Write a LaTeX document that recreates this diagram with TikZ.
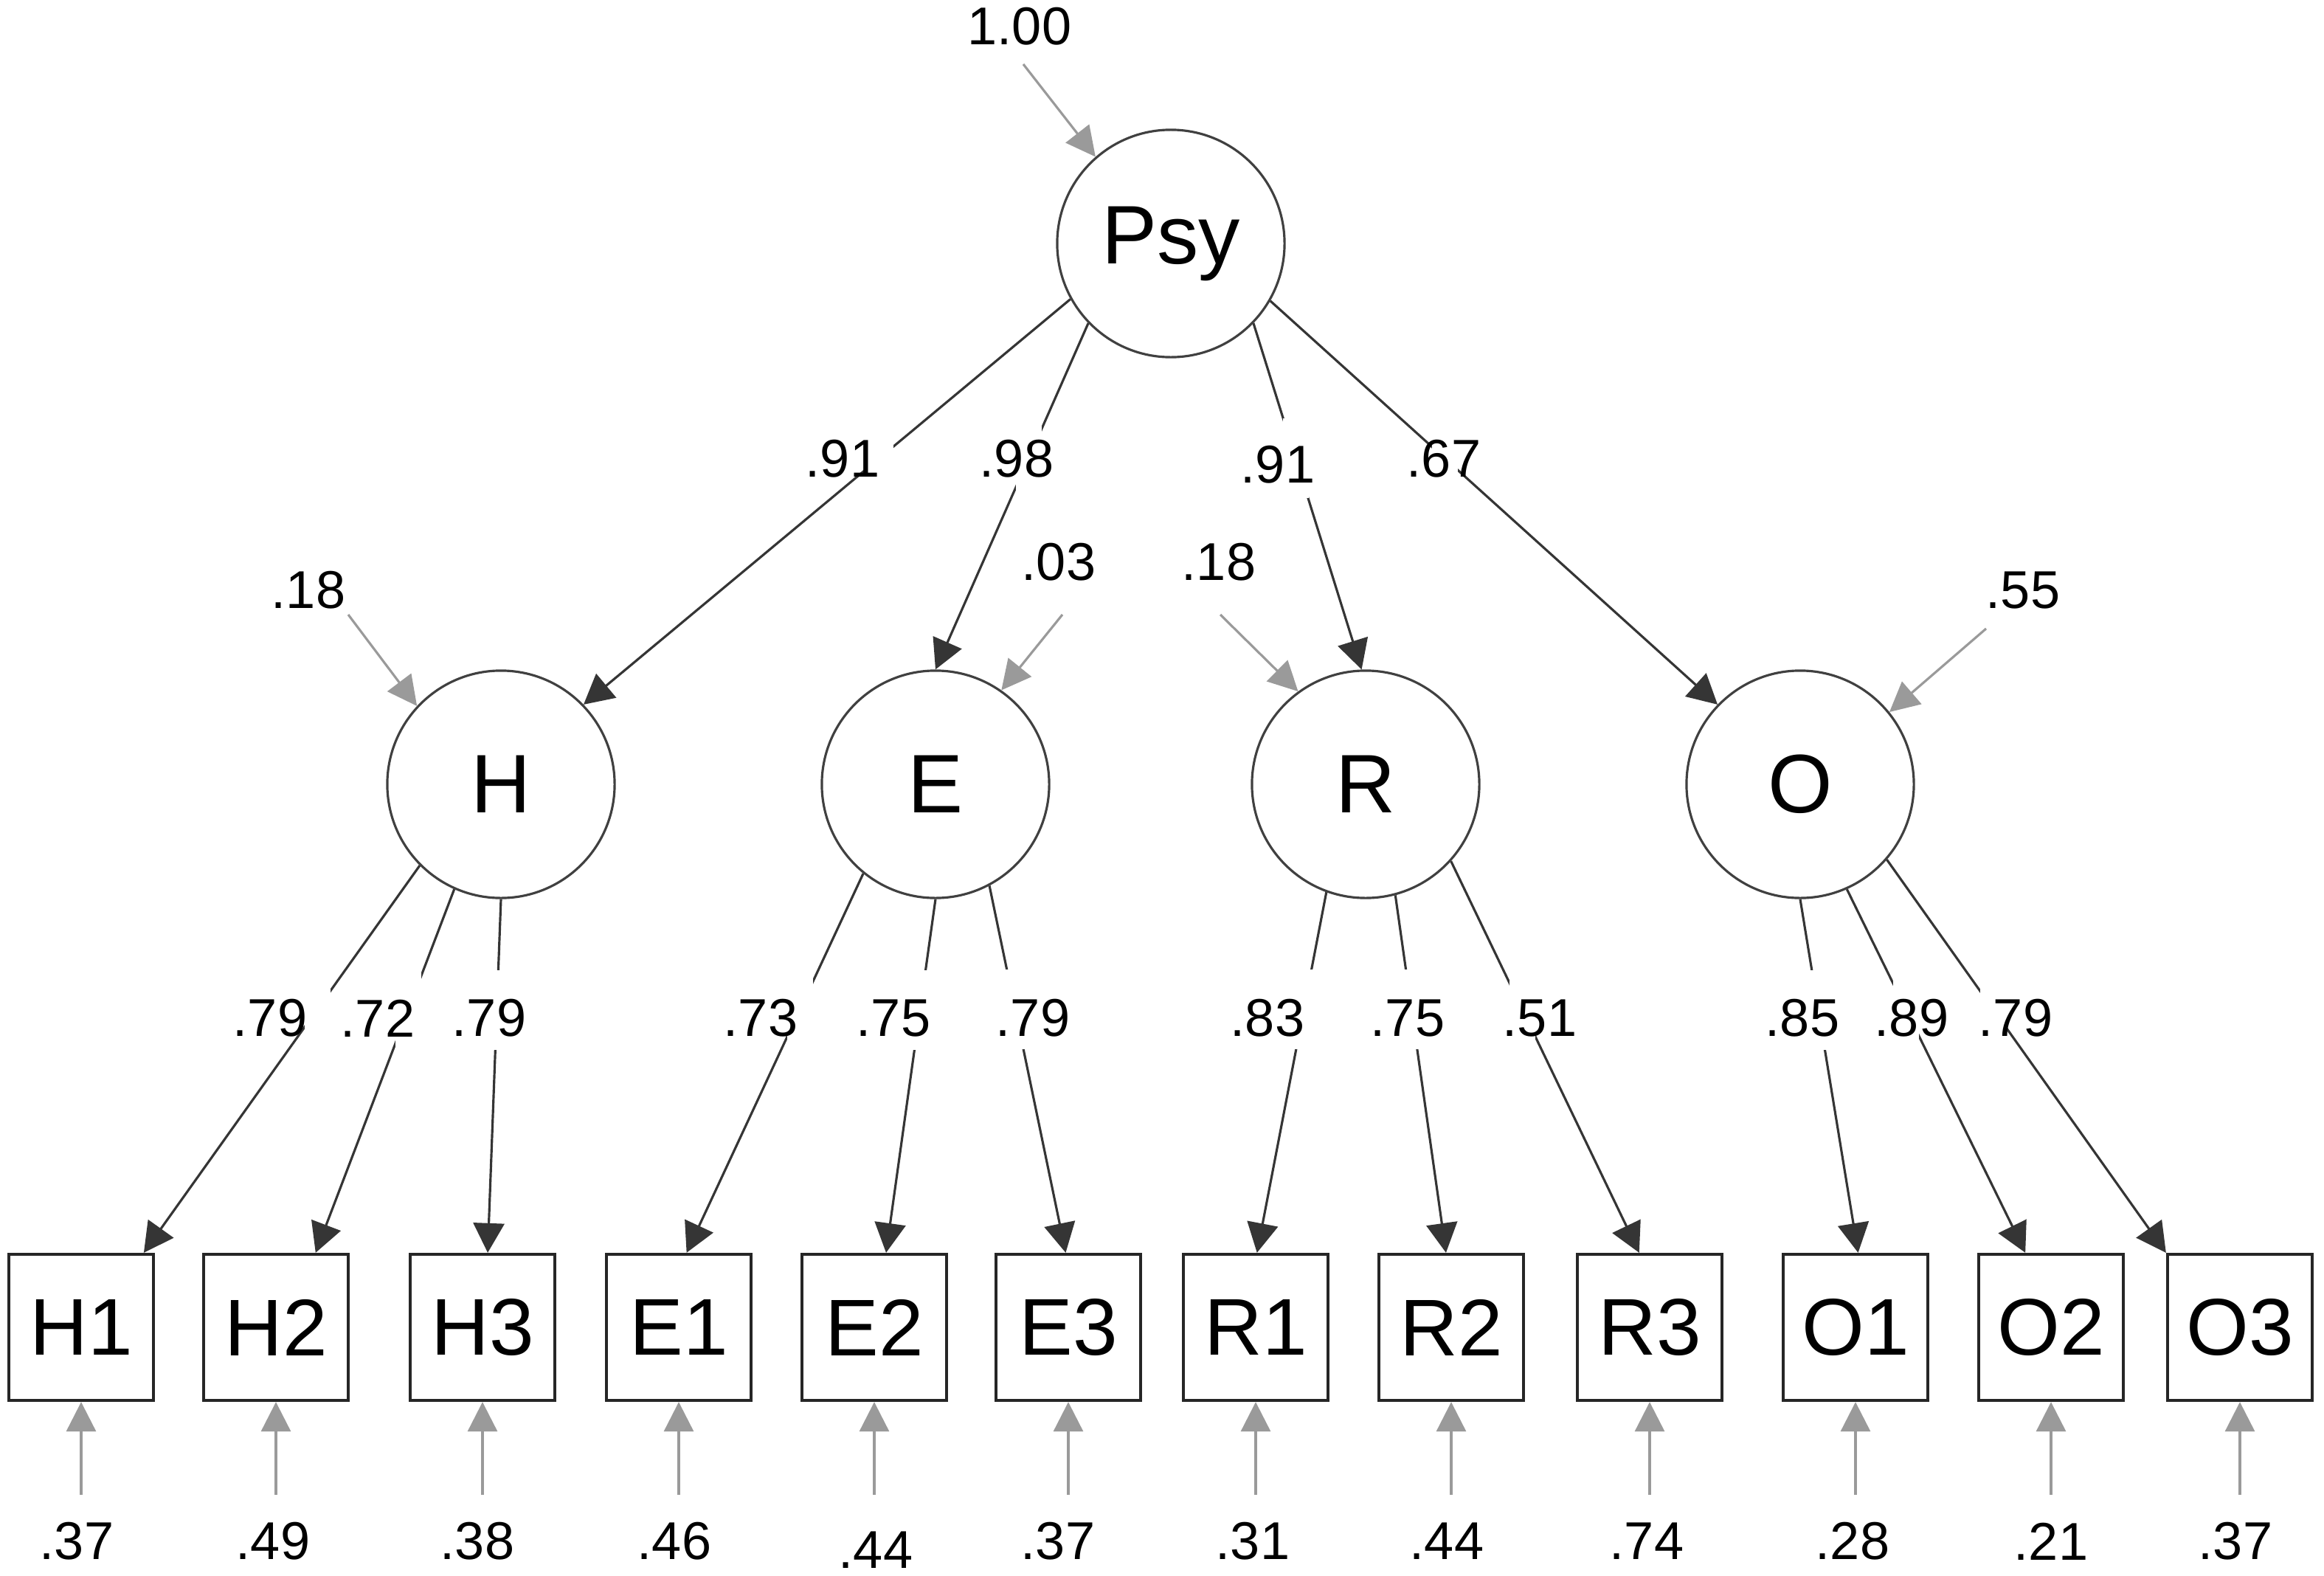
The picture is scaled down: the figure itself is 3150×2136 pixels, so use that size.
\documentclass[tikz,border=0pt]{standalone}
\usepackage{fontspec}
\setmainfont{Liberation Sans}
\usetikzlibrary{arrows.meta,calc}
\definecolor{loadc}{HTML}{353535}
\definecolor{errc}{HTML}{9A9A9A}
\definecolor{outc}{HTML}{404040}
\begin{document}
\begin{tikzpicture}[x=0.01cm,y=-0.01cm,
  latent/.style={circle,draw=outc,line width=0.9pt,minimum size=3.08cm,inner sep=0pt,font=\fontsize{32}{36}\selectfont},
  obs/.style={rectangle,draw=black!85,line width=1.2pt,minimum width=1.96cm,minimum height=1.98cm,inner sep=0pt,font=\fontsize{31}{36}\selectfont},
  load/.style={draw=loadc,line width=0.9pt,-{Triangle[length=0.4cm,width=0.42cm]}},
  err/.style={draw=errc,line width=0.9pt,-{Triangle[length=0.4cm,width=0.4cm]}},
  gapnode/.style={fill=white,inner sep=0pt,minimum width=0.35cm,minimum height=1.08cm},
  num/.style={font=\fontsize{20.5}{24}\selectfont,inner sep=0pt}]
\useasboundingbox (0,0) rectangle (3150,2136);

% latent variables
\node[latent] (Psy) at (1587,330) {Psy};
\node[latent] (H) at (679,1063) {H};
\node[latent] (E) at (1268,1063) {E};
\node[latent] (R) at (1851,1063) {R};
\node[latent] (O) at (2440,1063) {O};

% observed variables
\foreach \n/\x in {H1/110,H2/374,H3/654,E1/920,E2/1185,E3/1448,R1/1702,R2/1967,R3/2236,O1/2515,O2/2780,O3/3036}
  \node[obs] (\n) at (\x,1799) {\n};

% second-order loadings
\draw[load] (Psy.209) -- node[gapnode,pos=0.39] (gH) {} (H.44);
\draw[load] (Psy.224) -- node[gapnode,pos=0.39] (gE) {} (E.90);
\draw[load] (Psy.316) -- node[gapnode,pos=0.39] (gR) {} (R.92);
\draw[load] (Psy.330) -- node[gapnode,pos=0.39] (gO) {} (O.136);
\node[num] (lPH) at (1142,622) {.91};
\node[num] (lPE) at (1378,622) {.98};
\node[num] (lPR) at (1732,630) {.91};
\node[num] (lPO) at (1957,622) {.67};

% first-order loadings
\draw[load] (H.225) -- node[gapnode,pos=0.371] {} (H1.50);
\draw[load] (H.246) -- node[gapnode,pos=0.33] {} (H2.62);
\draw[load] (H.270) -- node[gapnode,pos=0.313] {} (H3.86);
\draw[load] (E.231) -- node[gapnode,pos=0.358] {} (E1.84);
\draw[load] (E.270) -- node[gapnode,pos=0.313] {} (E2.81);
\draw[load] (E.298) -- node[gapnode,pos=0.337] {} (E3.92);
\draw[load] (R.250) -- node[gapnode,pos=0.325] {} (R1.89);
\draw[load] (R.285) -- node[gapnode,pos=0.32] {} (R2.94);
\draw[load] (R.318) -- node[gapnode,pos=0.378] {} (R3.98);
\draw[load] (O.270) -- node[gapnode,pos=0.313] {} (O1.88);
\draw[load] (O.294) -- node[gapnode,pos=0.33] {} (O2.109);
\draw[load] (O.319) -- node[gapnode,pos=0.38] {} (O3.north west);

\node[num] (lH1) at (366,1380) {.79};
\node[num] (lH2) at (512,1380) {.72};
\node[num] (lH3) at (663,1380) {.79};
\node[num] (lE1) at (1031,1380) {.73};
\node[num] (lE2) at (1211,1380) {.75};
\node[num] (lE3) at (1400,1380) {.79};
\node[num] (lR1) at (1718,1380) {.83};
\node[num] (lR2) at (1908,1380) {.75};
\node[num] (lR3) at (2087,1380) {.51};
\node[num] (lO1) at (2443,1380) {.85};
\node[num] (lO2) at (2591,1380) {.89};
\node[num] (lO3) at (2732,1380) {.79};

% disturbances of latent variables
\coordinate (dPsy) at (1387,87);
\coordinate (dH) at (472,833);
\coordinate (dE) at (1440,833);
\coordinate (dR) at (1654,833);
\coordinate (dO) at (2692,852);
\draw[err] (dPsy) -- (Psy.131.5);
\draw[err] (dH) -- (H.137);
\draw[err] (dE) -- (E.55);
\draw[err] (dR) -- (R.126);
\draw[err] (dO) -- (O.39);
\node[num] (vPsy) at (1382,36) {1.00};
\node[num] (vH) at (418,800) {.18};
\node[num] (vE) at (1435,762) {.03};
\node[num] (vR) at (1652,762) {.18};
\node[num] (vO) at (2742,800) {.55};

% errors of observed variables
\foreach \n/\x/\v/\yy in {H1/104/.37/2089,H2/370/.49/2089,H3/647/.38/2089,E1/914/.46/2089,E2/1187/.44/2101,E3/1434/.37/2089,R1/1698/.31/2089,R2/1961/.44/2089,R3/2232/.74/2089,O1/2511/.28/2089,O2/2780/.21/2089,O3/3030/.37/2089}{
  \coordinate (e\n) at ($(\n.south)+(0,126)$);
  \draw[err] (e\n) -- (\n.south);
  \node[num] (v\n) at (\x,\yy) {\v};
}
\end{tikzpicture}
\end{document}
